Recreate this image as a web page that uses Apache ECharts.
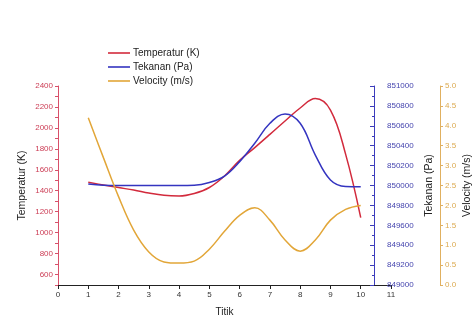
<!DOCTYPE html>
<html><head><meta charset="utf-8">
<script src="https://cdn.jsdelivr.net/npm/echarts@6/dist/echarts.min.js"></script>
<style>html,body{margin:0;padding:0;background:#fff}#c{width:473px;height:332px}</style>
</head><body><div id="c"></div>
<script>
const titik = [1, 1.5, 2, 2.5, 3, 3.5, 4, 4.5, 5, 5.5, 6, 6.5, 7, 7.5, 8, 8.5, 9, 9.5, 10];
const temperatur = [1480, 1455, 1430, 1407, 1378, 1356, 1350, 1374, 1431, 1541, 1690, 1812, 1938, 2066, 2190, 2280, 2170, 1750, 1143];
const tekanan = [850015, 850002, 850000, 850000, 850000, 850000, 850000, 850002, 850030, 850095, 850240, 850425, 850625, 850719, 850625, 850306, 850055, 849990, 849988];
const velocity = [4.2, 3.2, 2.22, 1.38, 0.83, 0.58, 0.55, 0.6, 0.9, 1.35, 1.75, 1.94, 1.63, 1.13, 0.85, 1.13, 1.63, 1.9, 2.0];
const seriesNames = ['Temperatur (K)', 'Tekanan (Pa)', 'Velocity (m/s)'];
const colors = ['#d22a3c', '#3434c0', '#e2a638'];
const labelColors = ['#cc3d55', '#4545ae', '#dcaa50'];

const pairs = (ys) => titik.map((x, i) => [x, ys[i]]);
const font = 'Liberation Sans, Arial, sans-serif';

const chart = echarts.init(document.getElementById('c'), null, {renderer: 'canvas'});
chart.setOption({
  animation: false,
  backgroundColor: '#fff',
  textStyle: {fontFamily: font},
  grid: {left: 58, right: 82, top: 86, bottom: 47, containLabel: false, outerBoundsMode: 'none'},
  legend: {
    left: 103, top: 42, orient: 'vertical', icon: 'rect',
    itemWidth: 22, itemHeight: 1.6, itemGap: 2,
    textStyle: {fontSize: 10, color: '#222', fontFamily: font, lineHeight: 12, padding: [0, 0, 0, -2]},
    data: seriesNames
  },
  xAxis: {
    type: 'value', min: 0, max: 11, interval: 1,
    name: 'Titik', nameLocation: 'middle', nameGap: 22, nameMoveOverlap: false,
    nameTextStyle: {fontSize: 10, color: '#222', fontFamily: font},
    axisLine: {show: true, lineStyle: {color: '#222', width: 1}},
    axisTick: {show: true, length: 4, lineStyle: {color: '#222'}},
    axisLabel: {fontSize: 8, color: '#333', margin: 6, fontFamily: font},
    splitLine: {show: false}
  },
  yAxis: [
    {
      type: 'value', position: 'left', min: 500, max: 2400, interval: 100,
      name: 'Temperatur (K)', nameLocation: 'middle', nameGap: 30, nameRotate: 90, nameMoveOverlap: false,
      nameTextStyle: {fontSize: 10.5, color: '#222', fontFamily: font},
      axisLine: {show: true, lineStyle: {color: '#d8506a', width: 1}},
      axisTick: {show: true, length: 3, lineStyle: {color: '#d8506a'}},
      axisLabel: {fontSize: 8, color: labelColors[0], margin: 5, fontFamily: font,
        formatter: (v) => (v % 200 === 0 ? String(v) : '')},
      splitLine: {show: false}
    },
    {
      type: 'value', position: 'right', offset: -17, min: 849000, max: 851000, interval: 200,
      name: 'Tekanan (Pa)', nameLocation: 'middle', nameGap: 50, nameRotate: 90, nameMoveOverlap: false,
      nameTextStyle: {fontSize: 10.5, color: '#222', fontFamily: font},
      axisLine: {show: true, lineStyle: {color: '#3c3cbc', width: 1}},
      axisTick: {show: true, inside: true, length: 4, lineStyle: {color: '#3c3cbc'}},
      minorTick: {show: true, splitNumber: 2, length: 2, lineStyle: {color: '#3c3cbc'}},
      axisLabel: {fontSize: 8, color: labelColors[1], margin: 13, fontFamily: font,
        formatter: (v) => String(v)},
      splitLine: {show: false}
    },
    {
      type: 'value', position: 'right', offset: 49, min: 0, max: 5, interval: 0.5,
      name: 'Velocity (m/s)', nameLocation: 'middle', nameGap: 22, nameRotate: 90, nameMoveOverlap: false,
      nameTextStyle: {fontSize: 10.5, color: '#222', fontFamily: font},
      axisLine: {show: true, lineStyle: {color: '#e0b060', width: 1}},
      axisTick: {show: true, length: 3, lineStyle: {color: '#e0b060'}},
      axisLabel: {fontSize: 8, color: labelColors[2], margin: 5, fontFamily: font,
        formatter: (v) => v.toFixed(1)},
      splitLine: {show: false}
    }
  ],
  series: [
    {name: seriesNames[0], type: 'line', yAxisIndex: 0, data: pairs(temperatur), smooth: 0.4,
      showSymbol: false, symbol: 'none', lineStyle: {color: colors[0], width: 1.5}, itemStyle: {color: colors[0]}},
    {name: seriesNames[1], type: 'line', yAxisIndex: 1, data: pairs(tekanan), smooth: 0.4,
      showSymbol: false, symbol: 'none', lineStyle: {color: colors[1], width: 1.5}, itemStyle: {color: colors[1]}},
    {name: seriesNames[2], type: 'line', yAxisIndex: 2, data: pairs(velocity), smooth: 0.4,
      showSymbol: false, symbol: 'none', lineStyle: {color: colors[2], width: 1.5}, itemStyle: {color: colors[2]}}
  ]
});
</script></body></html>
